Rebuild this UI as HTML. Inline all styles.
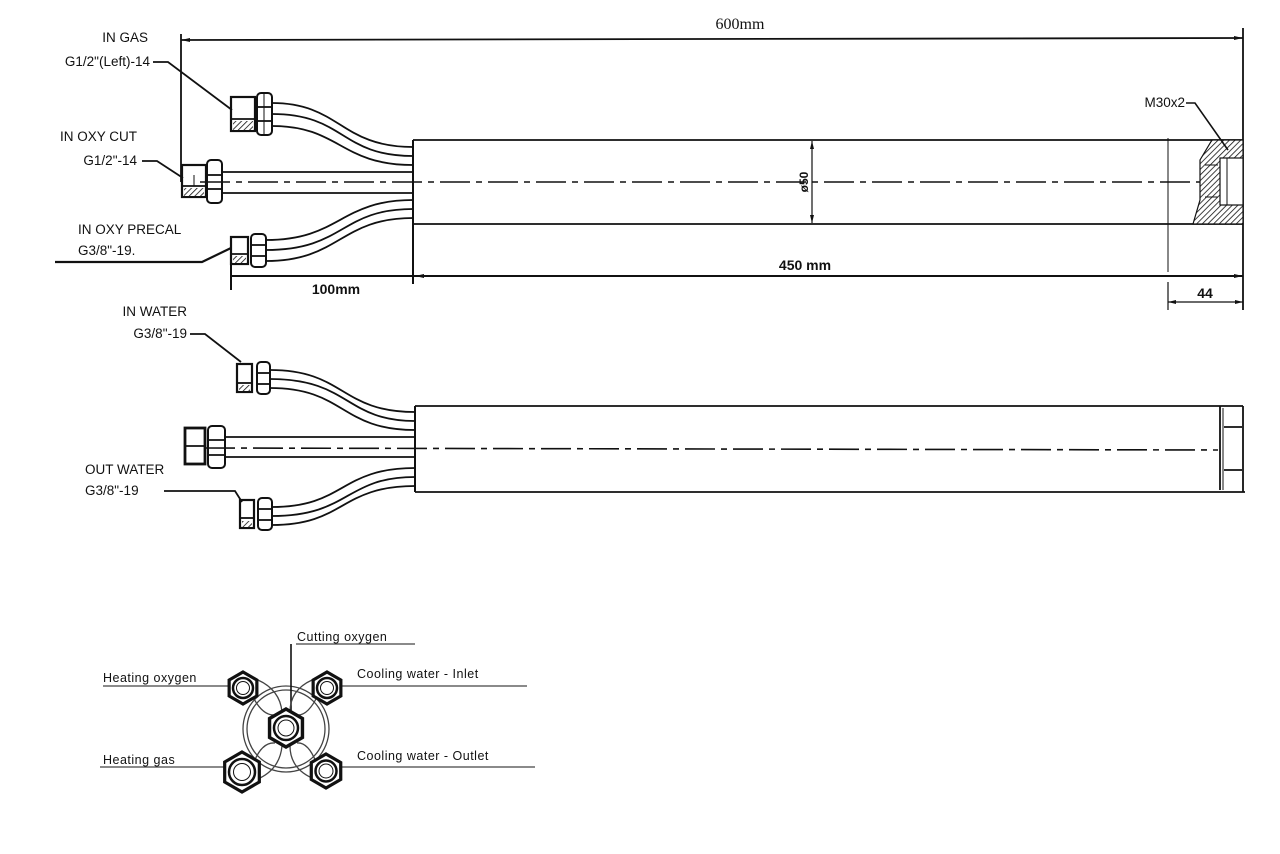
<!DOCTYPE html>
<html><head><meta charset="utf-8"><style>
html,body{margin:0;padding:0;background:#fff;}
svg{display:block}
text{font-family:"Liberation Sans",sans-serif;fill:#111}
.l{font-size:13.5px}
.c{font-size:12.5px;letter-spacing:0.5px}
</style></head><body>
<svg width="1280" height="854" viewBox="0 0 1280 854" xmlns="http://www.w3.org/2000/svg">
<defs>
<pattern id="h" width="4" height="4" patternUnits="userSpaceOnUse" patternTransform="rotate(45)"><rect width="4" height="4" fill="#fff"/><line x1="0" y1="0" x2="0" y2="4" stroke="#111" stroke-width="1.6"/></pattern>
<polygon id="hx" points="0,-10 8.66,-5 8.66,5 0,10 -8.66,5 -8.66,-5"/>
</defs>
<g stroke="#111" fill="none" stroke-width="1.8">
<line x1="181" y1="40" x2="1243" y2="38"/>
<line x1="181" y1="34" x2="181" y2="182"/>
<line x1="1243" y1="28" x2="1243" y2="310"/>
<line x1="413" y1="140" x2="1243" y2="140"/>
<line x1="413" y1="224" x2="1243" y2="224"/>
<line x1="413" y1="140" x2="413" y2="284" stroke-width="2"/>
<line x1="200" y1="182" x2="1240" y2="182" stroke-dasharray="30 6 6 6" stroke-width="1.6"/>
<line x1="812" y1="141" x2="812" y2="223" stroke-width="1.2"/>
<line x1="1168" y1="138" x2="1168" y2="272" stroke-width="1"/>
<path d="M1212,140 L1243,140 L1243,224 L1193,224 L1200,200 L1200,160 Z" fill="url(#h)" stroke-width="1.2"/>
<rect x="1220" y="158" width="23" height="47" fill="#fff" stroke-width="1.2"/>
<line x1="1227" y1="158" x2="1227" y2="205" stroke-width="1"/>
<line x1="1205" y1="165" x2="1218" y2="165" stroke-width="1"/>
<line x1="1205" y1="197" x2="1218" y2="197" stroke-width="1"/>
<line x1="231" y1="276" x2="1243" y2="276" stroke-width="2"/>
<line x1="231" y1="260" x2="231" y2="290" stroke-width="2"/>
<line x1="1168" y1="302" x2="1243" y2="302" stroke-width="1.2"/>
<line x1="1168" y1="282" x2="1168" y2="310" stroke-width="1.2"/>
<polyline points="153,62 168,62 232,110"/>
<polyline points="142,161 157,161 183,178"/>
<polyline points="55,262 202,262 231,248" stroke-width="2.2"/>
<rect x="231" y="97" width="24" height="34" stroke-width="2.2"/>
<rect x="233" y="121" width="20" height="9" fill="url(#h)" stroke="none"/>
<line x1="231" y1="119" x2="255" y2="119"/>
<rect x="257" y="93" width="15" height="42" rx="4" stroke-width="2"/>
<line x1="257" y1="107" x2="272" y2="107"/><line x1="257" y1="121" x2="272" y2="121"/>
<line x1="264" y1="93" x2="264" y2="135" stroke-width="1"/>
<path d="M272,103 C340,103 340,147 413,147"/>
<path d="M272,114 C345,114 340,156 413,156"/>
<path d="M272,126 C340,126 340,165 413,165"/>
<rect x="182" y="165" width="24" height="32" stroke-width="2.2"/>
<rect x="184" y="188" width="20" height="8" fill="url(#h)" stroke="none"/>
<line x1="182" y1="186" x2="206" y2="186"/>
<line x1="194" y1="175" x2="194" y2="186" stroke-width="1"/>
<rect x="207" y="160" width="15" height="43" rx="4" stroke-width="2"/>
<line x1="207" y1="175" x2="222" y2="175"/><line x1="207" y1="189" x2="222" y2="189"/>
<line x1="222" y1="172" x2="413" y2="172"/>
<line x1="222" y1="193" x2="413" y2="193"/>
<rect x="231" y="237" width="17" height="27" stroke-width="2.2"/>
<rect x="233" y="256" width="13" height="7" fill="url(#h)" stroke="none"/>
<line x1="231" y1="254" x2="248" y2="254"/>
<rect x="251" y="234" width="15" height="33" rx="4" stroke-width="2"/>
<line x1="251" y1="245" x2="266" y2="245"/><line x1="251" y1="256" x2="266" y2="256"/>
<path d="M266,240 C340,240 340,200 413,200"/>
<path d="M266,250 C345,250 340,209 413,209"/>
<path d="M266,261 C340,261 340,218 413,218"/>
<line x1="415" y1="406" x2="1243" y2="406"/>
<line x1="415" y1="492" x2="1245" y2="492"/>
<line x1="415" y1="406" x2="415" y2="492" stroke-width="2"/>
<line x1="1220" y1="406" x2="1220" y2="490"/>
<line x1="1223" y1="408" x2="1223" y2="490" stroke-width="1"/>
<line x1="1243" y1="406" x2="1243" y2="492"/>
<line x1="1224" y1="427" x2="1242" y2="427"/>
<line x1="1224" y1="470" x2="1242" y2="470"/>
<line x1="205" y1="448" x2="1218" y2="450" stroke-dasharray="30 6 6 6" stroke-width="1.6"/>
<polyline points="190,334 205,334 241,362"/>
<rect x="237" y="364" width="15" height="28" stroke-width="2.2"/>
<rect x="239" y="385" width="11" height="6" fill="url(#h)" stroke="none"/>
<line x1="237" y1="383" x2="252" y2="383"/>
<rect x="257" y="362" width="13" height="32" rx="4" stroke-width="2"/>
<line x1="257" y1="373" x2="270" y2="373"/><line x1="257" y1="384" x2="270" y2="384"/>
<path d="M270,370 C345,370 340,412 415,412"/>
<path d="M270,379 C350,379 345,421 415,421"/>
<path d="M270,388 C345,388 340,430 415,430"/>
<rect x="185" y="428" width="20" height="36" stroke-width="2.8"/>
<line x1="185" y1="446" x2="205" y2="446"/>
<rect x="208" y="426" width="17" height="42" rx="4" stroke-width="2"/>
<line x1="208" y1="440" x2="225" y2="440"/><line x1="208" y1="455" x2="225" y2="455"/>
<line x1="225" y1="437" x2="415" y2="437"/>
<line x1="225" y1="457" x2="415" y2="457"/>
<polyline points="164,491 235,491 242,502"/>
<rect x="240" y="500" width="14" height="28" stroke-width="2.2"/>
<rect x="242" y="521" width="10" height="6" fill="url(#h)" stroke="none"/>
<line x1="240" y1="518" x2="254" y2="518"/>
<rect x="258" y="498" width="14" height="32" rx="4" stroke-width="2"/>
<line x1="258" y1="509" x2="272" y2="509"/><line x1="258" y1="520" x2="272" y2="520"/>
<path d="M272,507 C345,507 340,468 415,468"/>
<path d="M272,516 C350,516 345,477 415,477"/>
<path d="M272,525 C345,525 340,486 415,486"/>
</g>
<g fill="#111">
<polygon points="181,40 190,38 190,42"/><polygon points="1243,38 1234,36 1234,40"/>
<polygon points="812,141 810,149 814,149"/><polygon points="812,223 810,215 814,215"/>
<polygon points="1168,302 1176,300 1176,304"/><polygon points="1243,302 1235,300 1235,304"/>
<polygon points="1243,276 1234,274 1234,278"/><polygon points="415,276 424,274 424,278"/>
</g>
<text x="740" y="29" text-anchor="middle" style="font-family:'Liberation Serif',serif;font-size:16px">600mm</text>
<text x="148" y="42" text-anchor="end" class="l">IN GAS</text>
<text x="150" y="66" text-anchor="end" class="l">G1/2"(Left)-14</text>
<text x="137" y="141" text-anchor="end" class="l">IN OXY CUT</text>
<text x="137" y="165" text-anchor="end" class="l">G1/2"-14</text>
<text x="78" y="234" class="l">IN OXY PRECAL</text>
<text x="78" y="255" class="l">G3/8"-19.</text>
<text x="1185" y="107" text-anchor="end" class="l">M30x2</text>
<polyline points="1186,103 1195,103 1228,150" fill="none" stroke="#111" stroke-width="1.6"/>
<text transform="translate(808,182) rotate(-90)" text-anchor="middle" class="l" style="font-size:12px;font-weight:bold">ø50</text>
<text x="805" y="270" text-anchor="middle" style="font-size:14px;font-weight:bold">450 mm</text>
<text x="336" y="294" text-anchor="middle" style="font-size:14px;font-weight:bold">100mm</text>
<text x="1205" y="298" text-anchor="middle" style="font-size:14px;font-weight:bold">44</text>
<text x="187" y="316" text-anchor="end" class="l">IN WATER</text>
<text x="187" y="338" text-anchor="end" class="l">G3/8"-19</text>
<text x="85" y="474" class="l">OUT WATER</text>
<text x="85" y="495" class="l">G3/8"-19</text>
<g stroke="#444" fill="none" stroke-width="1.3">
<circle cx="286" cy="729" r="43"/><circle cx="286" cy="729" r="39"/>
<line x1="103" y1="686" x2="232" y2="686"/>
<line x1="296" y1="644" x2="415" y2="644"/>
<line x1="291" y1="644" x2="291" y2="715" stroke="#111" stroke-width="1.6"/>
<line x1="337" y1="686" x2="527" y2="686"/>
<line x1="100" y1="767" x2="228" y2="767"/>
<line x1="337" y1="767" x2="535" y2="767"/>
<path d="M252,695 Q262,716 275,715 M258,680 Q280,690 282,712 M318,695 Q308,716 297,715 M312,680 Q290,690 290,712"/>
<path d="M254,762 Q262,742 275,743 M260,778 Q280,768 282,746 M316,762 Q308,742 297,743 M312,778 Q290,768 290,746"/>
</g>
<g stroke="#111" fill="#fff">
<g transform="translate(243,688) scale(1.6)"><use href="#hx" stroke-width="2"/></g>
<circle cx="243" cy="688" r="10" fill="none" stroke-width="2.5"/><circle cx="243" cy="688" r="6.5" fill="none" stroke-width="1"/>
<g transform="translate(327,688) scale(1.6)"><use href="#hx" stroke-width="2"/></g>
<circle cx="327" cy="688" r="10" fill="none" stroke-width="2.5"/><circle cx="327" cy="688" r="6.5" fill="none" stroke-width="1"/>
<g transform="translate(286,728) scale(1.9)"><use href="#hx" stroke-width="1.8"/></g>
<circle cx="286" cy="728" r="12" fill="none" stroke-width="2.5"/><circle cx="286" cy="728" r="8" fill="none" stroke-width="1"/>
<g transform="translate(242,772) scale(2)"><use href="#hx" stroke-width="1.6"/></g>
<circle cx="242" cy="772" r="13" fill="none" stroke-width="2.5"/><circle cx="242" cy="772" r="8.5" fill="none" stroke-width="1"/>
<g transform="translate(326,771) scale(1.7)"><use href="#hx" stroke-width="1.9"/></g>
<circle cx="326" cy="771" r="10.5" fill="none" stroke-width="2.5"/><circle cx="326" cy="771" r="7" fill="none" stroke-width="1"/>
</g>
<text x="297" y="641" class="c">Cutting oxygen</text>
<text x="103" y="682" class="c">Heating oxygen</text>
<text x="357" y="678" class="c">Cooling water - Inlet</text>
<text x="103" y="764" class="c">Heating gas</text>
<text x="357" y="760" class="c">Cooling water - Outlet</text>
</svg>
</body></html>
